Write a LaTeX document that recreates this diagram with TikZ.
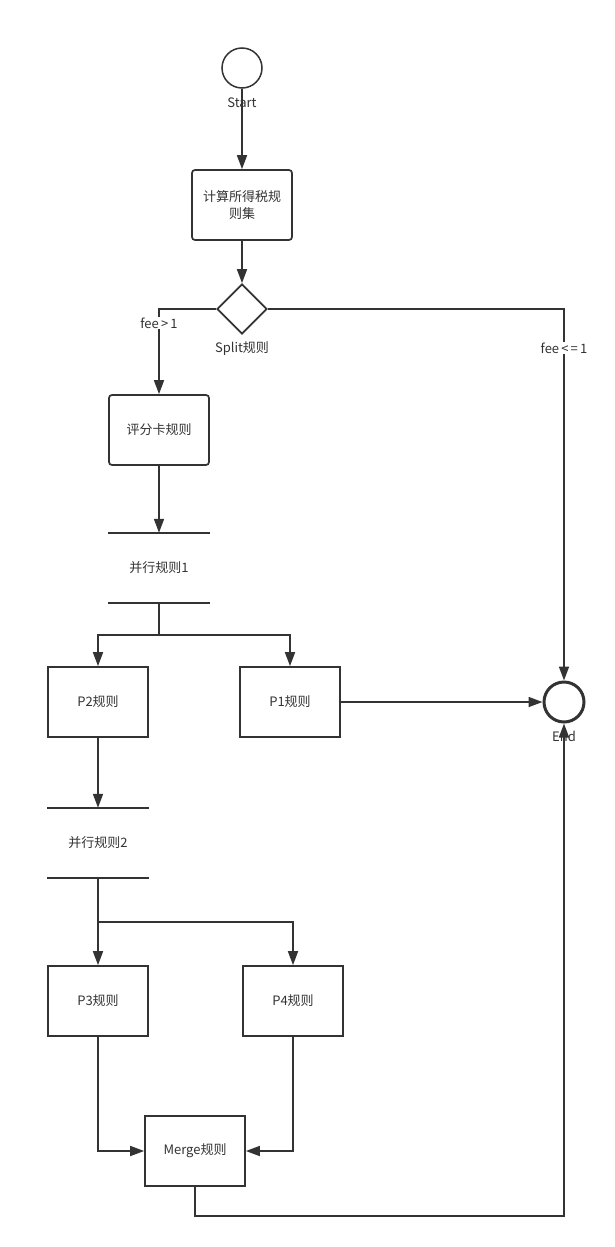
\documentclass[tikz,border=0pt]{standalone}
\usepackage{fontspec}
\setmainfont{Noto Sans CJK SC}
\usetikzlibrary{arrows.meta,shapes.geometric}
\definecolor{lc}{HTML}{333333}
\definecolor{tc}{HTML}{333333}
\begin{document}
\begin{tikzpicture}[x=1pt,y=-1pt,
  every node/.style={font=\fontsize{13pt}{17pt}\selectfont, text=tc},
  conn/.style={draw=lc, line width=1.7pt},
  arr/.style={conn, -{Triangle[length=14pt,width=10pt]}},
  rbox/.style={draw=lc, line width=1.7pt, rounded corners=3pt, minimum width=100pt, minimum height=70pt, align=center, inner sep=0pt},
  sbox/.style={draw=lc, line width=1.7pt, minimum width=100pt, minimum height=70pt, align=center, inner sep=0pt},
  pbar/.style={minimum width=101pt, minimum height=70pt, inner sep=0pt},
  lbl/.style={fill=white, inner sep=1pt}
]
\useasboundingbox (0,0) rectangle (615,1247);
\fill[white] (0,0) rectangle (615,1247);

% nodes
\node[circle, draw=lc, line width=1.5pt, minimum size=40pt, inner sep=0pt] (start) at (242,68) {};
\node (startl) at (242,103) {Start};
\node[rbox] (calc) at (242,205) {计算所得税规\\则集};
\node[diamond, draw=lc, line width=1.7pt, minimum size=50pt, inner sep=0pt, aspect=1] (split) at (242,309) {};
\node (splitl) at (242,349) {Split规则};
\node[rbox] (score) at (159,430) {评分卡规则};
\node[pbar] (par1) at (159,568) {并行规则1};
\node[sbox] (p2) at (98,702) {P2规则};
\node[sbox] (p1) at (290,702) {P1规则};
\node[circle, draw=lc, line width=3pt, minimum size=40pt, inner sep=0pt] (end) at (564,702) {};
\node (endl) at (564,736) {End};
\node[pbar] (par2) at (98,843) {并行规则2};
\node[sbox] (p3) at (98,1001) {P3规则};
\node[sbox] (p4) at (293,1001) {P4规则};
\node[sbox] (merge) at (195,1151) {Merge规则};

% bars
\draw[conn] (par1.north west) -- (par1.north east);
\draw[conn] (par1.south west) -- (par1.south east);
\draw[conn] (par2.north west) -- (par2.north east);
\draw[conn] (par2.south west) -- (par2.south east);

% connectors
\draw[arr] (start) -- (calc);
\draw[arr] (calc) -- (split);
\draw[arr] (split.west) -| (score.north);
\draw[arr] (split.east) -| (end.north);
\node[lbl] (fee1) at (159,323) {fee\,>\,1};
\node[lbl] (fee2) at (564,348) {fee\,<\,=\,1};
\draw[arr] (score) -- (par1.north);
\coordinate (j1) at (159,635);
\draw[conn] (par1.south) -- (j1);
\draw[arr] (j1) -| (p2.north);
\draw[arr] (j1) -| (p1.north);
\draw[arr] (p1) -- (end);
\draw[arr] (p2) -- (par2.north);
\coordinate (j2) at (98,922);
\draw[conn] (par2.south) -- (j2);
\draw[arr] (j2) -- (p3.north);
\draw[arr] (j2) -| (p4.north);
\draw[arr] (p3.south) |- (merge.west);
\draw[arr] (p4.south) |- (merge.east);
\coordinate (j3) at (195,1216);
\draw[arr] (merge.south) -- (j3) -| (end.south);
\end{tikzpicture}
\end{document}
